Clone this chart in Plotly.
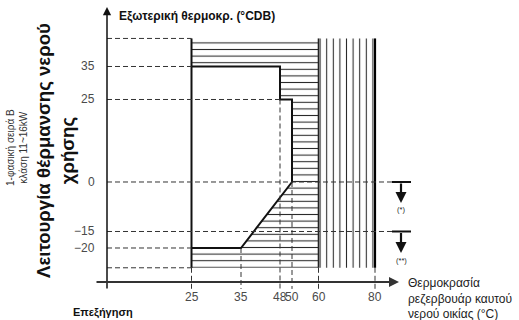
import numpy as np
import plotly.graph_objects as go

# Tank water temperature ticks (°C) and outdoor temperature ticks (°CDB)
x_ticks = [25, 35, 48, 50, 60, 80]
y_ticks = [35, 25, 0, -15, -20]

# Heat-pump operating envelope (tank temperature, outdoor temperature)
env_tank = [25, 48, 48, 50, 50, 35, 25]
env_out = [35, 35, 25, 25, 0, -20, -20]

tank_min, tank_hp_max, tank_max = 25, 60, 80   # booster heater zone 60..80
out_top, out_bottom = 43.5, -26.0              # vertical extent of the diagram band

# Schematic (not to scale) placement of the tank-temperature ticks
x_tick_pos = [191.5, 241, 280, 292, 318.5, 375]
y_axis_at = 107          # schematic x of the vertical axis
x_axis_at = -30.3        # outdoor temperature level of the horizontal axis


def xs(t):
    return float(np.interp(t, x_ticks, x_tick_pos))


W, H = 519, 320
Y_TOP, Y_BOT = 55.15, -41.82   # outdoor temperature at top/bottom edges


def ypx(p):
    """Outdoor-temperature value at a vertical pixel offset (for label placement)."""
    return Y_TOP - p * (Y_TOP - Y_BOT) / H


fig = go.Figure()

# Horizontal hatching: region between the envelope and the 60 °C limit
hx = [tank_min, tank_hp_max, tank_hp_max, tank_min] + env_tank[::-1] + [tank_min]
hy = [out_top, out_top, out_bottom, out_bottom] + env_out[::-1] + [out_top]
fig.add_trace(go.Scatter(
    x=[xs(v) for v in hx], y=hy, mode="none", fill="toself",
    fillpattern=dict(shape="-", size=6.6, solidity=0.16,
                     fgcolor="#2a2a2a", bgcolor="white", fillmode="replace"),
    hoverinfo="skip", showlegend=False))

# Vertical hatching: 60..80 °C zone
vx = [tank_hp_max, tank_max, tank_max, tank_hp_max, tank_hp_max]
vy = [out_top, out_top, out_bottom, out_bottom, out_top]
fig.add_trace(go.Scatter(
    x=[xs(v) for v in vx], y=vy, mode="none", fill="toself",
    fillpattern=dict(shape="|", size=6.6, solidity=0.16,
                     fgcolor="#2a2a2a", bgcolor="white", fillmode="replace"),
    hoverinfo="skip", showlegend=False))

dash = dict(color="#333333", width=1, dash="5px,3px")

# Dashed reference lines (horizontal)
for lvl, t_end in [(out_top, 25), (35, 25), (25, 48), (-20, 25), (out_bottom, 25)]:
    fig.add_shape(type="line", x0=y_axis_at, x1=xs(t_end), y0=lvl, y1=lvl, line=dash)
for lvl in [0, -15]:
    fig.add_shape(type="line", x0=y_axis_at, x1=392, y0=lvl, y1=lvl, line=dash)

# Dashed reference lines (vertical, down to the tick marks)
tick_end = -32.4
for t, start in [(25, out_bottom), (35, -20), (48, 25), (50, 0),
                 (60, out_bottom), (80, out_bottom)]:
    fig.add_shape(type="line", x0=xs(t), x1=xs(t), y0=start, y1=tick_end, line=dash)

# Envelope and zone borders
fig.add_trace(go.Scatter(x=[xs(v) for v in env_tank], y=env_out, mode="lines",
                         line=dict(color="#111111", width=2), hoverinfo="skip",
                         showlegend=False))
fig.add_trace(go.Scatter(x=[xs(tank_min)] * 2, y=[out_top, out_bottom], mode="lines",
                         line=dict(color="#111111", width=2), hoverinfo="skip",
                         showlegend=False))
fig.add_trace(go.Scatter(x=[xs(tank_hp_max)] * 2, y=[out_top, out_bottom], mode="lines",
                         line=dict(color="#222222", width=1.6), hoverinfo="skip",
                         showlegend=False))
fig.add_trace(go.Scatter(x=[xs(tank_max)] * 2, y=[out_top, out_bottom], mode="lines",
                         line=dict(color="#000000", width=2.2), hoverinfo="skip",
                         showlegend=False))

ann = []

# Axes with arrows
ann.append(dict(x=y_axis_at, y=ypx(7), ax=y_axis_at, ay=ypx(290), xref="x", yref="y",
                axref="x", ayref="y", text="", showarrow=True, arrowhead=2,
                arrowsize=1.1, arrowwidth=1.5, arrowcolor="#111111"))
ann.append(dict(x=399, y=x_axis_at, ax=95, ay=x_axis_at, xref="x", yref="y",
                axref="x", ayref="y", text="", showarrow=True, arrowhead=2,
                arrowsize=1.0, arrowwidth=2, arrowcolor="#333333"))

tick_font = dict(family="Liberation Sans Narrow, Liberation Sans, Arial", size=12,
                 color="#4a4a4a")
for v in y_ticks:
    ann.append(dict(x=97, y=v, xref="x", yref="y", text=str(v).replace("-", "\u2212"),
                    showarrow=False, xanchor="right", yanchor="middle", font=tick_font))
for v in x_ticks:
    ann.append(dict(x=xs(v), y=ypx(297), xref="x", yref="y", text=str(v),
                    showarrow=False, xanchor="center", yanchor="middle", font=tick_font))

# Limit markers for the (*) and (**) notes
for lvl, tip_px, note, note_px in [(0, 203, "(*)", 209), (-15, 253, "(**)", 260)]:
    fig.add_shape(type="line", x0=392, x1=411, y0=lvl, y1=lvl,
                  line=dict(color="#111111", width=2))
    ann.append(dict(x=401, y=ypx(tip_px), ax=401, ay=lvl, xref="x", yref="y",
                    axref="x", ayref="y", text="", showarrow=True, arrowhead=2,
                    arrowsize=1.0, arrowwidth=2.2, arrowcolor="#111111"))
    ann.append(dict(x=401, y=ypx(note_px), xref="x", yref="y", text=note,
                    showarrow=False, font=dict(family="Liberation Sans", size=7.5,
                                               color="#222222")))

txt = "Liberation Sans, Arial"
ann.append(dict(x=117, y=ypx(16), xref="x", yref="y", xanchor="left", yanchor="middle",
                text="<b>Εξωτερική θερμοκρ. (°CDB)</b>", showarrow=False,
                font=dict(family=txt, size=12, color="#111111")))
ann.append(dict(x=55, y=ypx(151), xref="x", yref="y", textangle=-90,
                text="<b>Λειτουργία θέρμανσης νερού<br>χρήσης</b>", showarrow=False,
                font=dict(family=txt, size=18.6, color="#111111")))
ann.append(dict(x=17, y=ypx(148), xref="x", yref="y", textangle=-90,
                text="1-φασική σειρά B<br>κλάση 11~16kW", showarrow=False,
                font=dict(family=txt, size=10, color="#333333")))
ann.append(dict(x=103, y=ypx(312), xref="x", yref="y",
                text="<b>Επεξήγηση</b>", showarrow=False,
                font=dict(family=txt, size=11, color="#111111")))
ann.append(dict(x=406, y=ypx(298), xref="x", yref="y", xanchor="left", align="left",
                text="Θερμοκρασία<br>ρεζερβουάρ καυτού<br>νερού οικίας (°C)",
                showarrow=False, font=dict(family=txt, size=12, color="#222222")))

fig.update_layout(
    width=W, height=H, margin=dict(l=0, r=0, t=0, b=0),
    paper_bgcolor="white", plot_bgcolor="white",
    xaxis=dict(range=[0, W], visible=False, fixedrange=True),
    yaxis=dict(range=[Y_BOT, Y_TOP], visible=False, fixedrange=True),
    annotations=ann, showlegend=False,
)

fig.write_html("out.html")
